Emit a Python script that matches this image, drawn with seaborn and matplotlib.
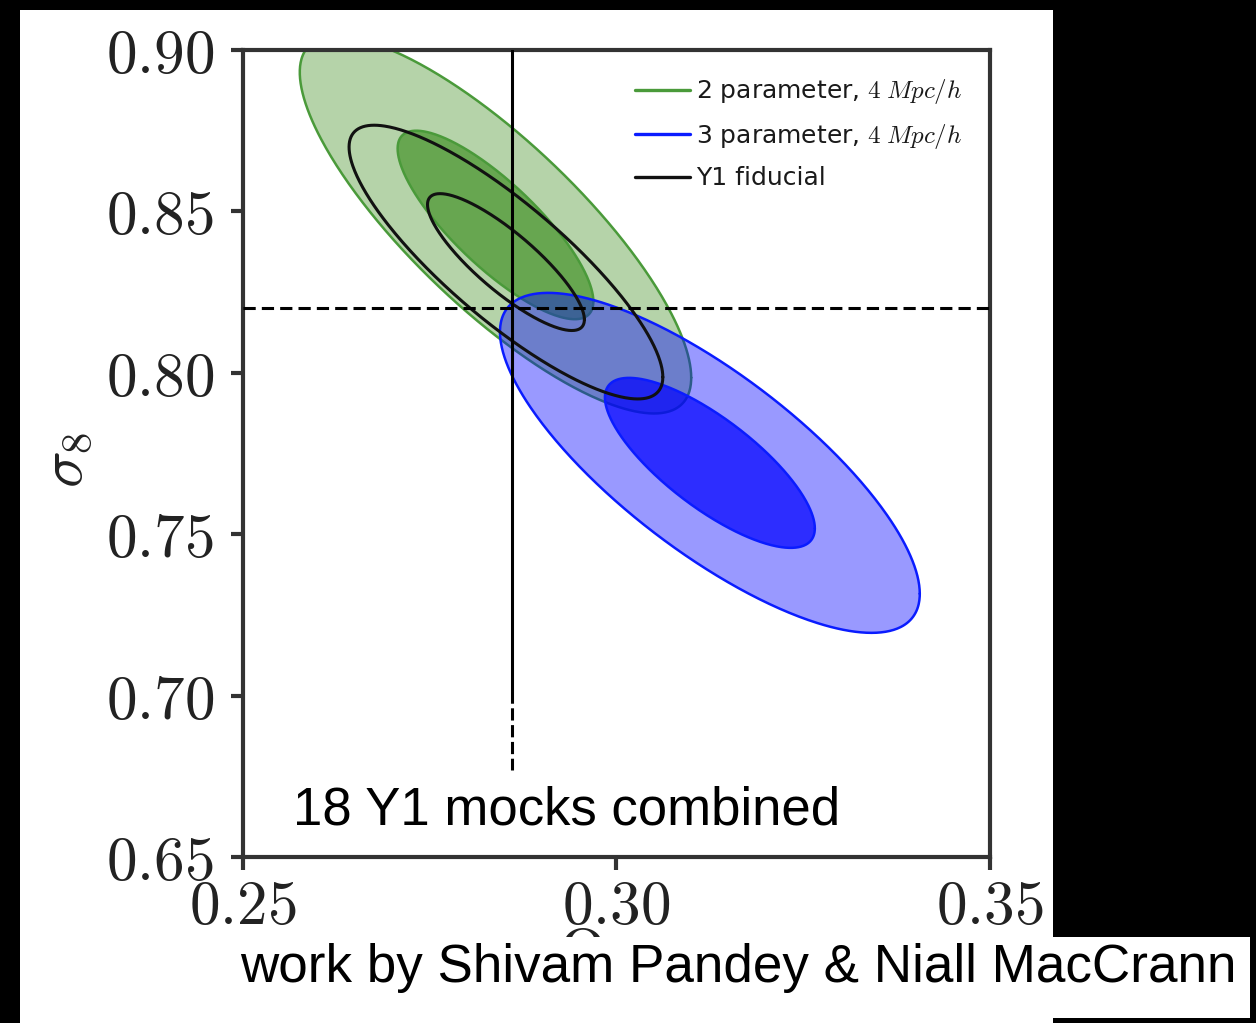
import numpy as np
import matplotlib
matplotlib.use("Agg")
import matplotlib.pyplot as plt
import pandas as pd
import seaborn as sns
from matplotlib.lines import Line2D
from matplotlib.patches import Rectangle

sns.set_style("ticks")
plt.rcParams["font.family"] = ["DejaVu Sans"]
plt.rcParams["mathtext.fontset"] = "cm"

# Posterior summaries (Gaussian approximation) for each analysis
models = ["2 parameter, $4\\;Mpc/h$", "3 parameter, $4\\;Mpc/h$", "Y1 fiducial"]
center_om = [0.2838, 0.3125, 0.2852]
center_s8 = [0.8458, 0.7721, 0.8343]
sigma_om = [0.0131, 0.01405, 0.0105]
sigma_s8 = [0.0292, 0.02633, 0.0212]
corr = [-0.81, -0.77, -0.84]
contour_levels = [1, 2]

# Fiducial cosmology of the mocks
fid_om = 0.286
fid_s8 = 0.82

xticks = [0.25, 0.30, 0.35]
yticks = [0.65, 0.70, 0.75, 0.80, 0.85, 0.90]

line_colors = ["#4a9a3a", "#0a1cff", "#111111"]
fill_colors = ["#46932a", "#0000ff", None]
fill_alpha = {1: 0.70, 2: 0.40}


def contour(i, k):
    t = np.linspace(0, 2 * np.pi, 500)
    r = corr[i]
    x = center_om[i] + k * sigma_om[i] * np.cos(t)
    y = center_s8[i] + k * sigma_s8[i] * (r * np.cos(t) + np.sqrt(1 - r ** 2) * np.sin(t))
    return pd.DataFrame({"om": x, "s8": y})


fig = plt.figure(figsize=(12.56, 10.23), dpi=100, facecolor="black")
fig.patches.append(Rectangle((20 / 1256, 0), 1033 / 1256, 1013 / 1023,
                             transform=fig.transFigure, facecolor="white",
                             edgecolor="none", zorder=-10))

ax = fig.add_axes([243 / 1256, 1 - 857 / 1023, 747 / 1256, 807 / 1023])

for i in range(3):
    for k in sorted(contour_levels, reverse=True):
        df = contour(i, k)
        if fill_colors[i] is not None:
            ax.fill(df["om"], df["s8"], color=fill_colors[i], alpha=fill_alpha[k],
                    lw=0, zorder=1 + i)
        sns.lineplot(data=df, x="om", y="s8", sort=False, estimator=None,
                     color=line_colors[i], lw=2.2 if i == 2 else 1.8,
                     ax=ax, zorder=1.5 + i)

# reference lines
ax.axhline(fid_s8, color="black", lw=2.2, ls=(0, (4, 2)), zorder=6)
ax.plot([fid_om, fid_om], [0.9, 0.7015], color="black", lw=2.2, zorder=6)
ax.plot([fid_om, fid_om], [0.7015, 0.677], color="black", lw=2.2,
        ls=(0, (4, 1.5)), zorder=6)

ax.set_xlim(0.25, 0.35)
ax.set_ylim(0.65, 0.90)
ax.set_xticks(xticks, labels=[f"${v:.2f}$" for v in xticks])
ax.set_yticks(yticks, labels=[f"${v:.2f}$" for v in yticks])
ax.tick_params(direction="out", length=9, width=3, color="#333333",
               labelsize=44, labelcolor="#222222")
ax.tick_params(axis="y", pad=12)
ax.tick_params(axis="x", pad=6)
for s in ax.spines.values():
    s.set_linewidth(3)
    s.set_color("#333333")
ax.set_xlabel("")
ax.set_ylabel("")

handles = [Line2D([], [], color=c, lw=2.4) for c in line_colors]
leg = ax.legend(handles, models, loc="upper right", bbox_to_anchor=(0.9625, 0.966),
                frameon=False, fontsize=18, handlelength=2.2, handletextpad=0.25,
                labelspacing=0.62, borderaxespad=0, borderpad=0)
for t in leg.get_texts():
    t.set_color("#1a1a1a")

ax.text(0.067, 0.058, "18 Y1 mocks combined", transform=ax.transAxes,
        fontsize=38, family="Liberation Sans", va="center", ha="left",
        color="black", zorder=10)

fig.text(65 / 1256, 1 - 460 / 1023, "$\\sigma_8$", rotation=90, fontsize=44,
         ha="center", va="center", color="#222222")
fig.text(603 / 1256, 1 - 955 / 1023, "$\\Omega_m$", fontsize=44,
         ha="center", va="center", color="#222222", zorder=2)

fig.patches.append(Rectangle((232 / 1256, 5 / 1023), 1018 / 1256, 81 / 1023,
                             transform=fig.transFigure, facecolor="white",
                             edgecolor="none", zorder=4))
fig.text(240 / 1256, 1 - 968 / 1023, "work by Shivam Pandey & Niall MacCrann",
         fontsize=38.2, family="Liberation Sans", ha="left", va="center",
         color="black", zorder=5)

fig.savefig("out.png", dpi=100, facecolor=fig.get_facecolor())
